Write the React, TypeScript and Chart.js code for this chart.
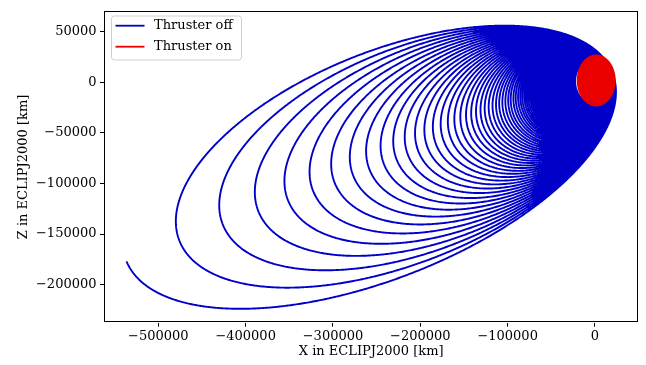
import React, { useEffect, useRef } from 'react';
import { Chart, registerables } from 'chart.js';

Chart.register(...registerables);

// Axis ticks and ranges (km)
const xTicks = [-500000, -400000, -300000, -200000, -100000, 0];
const yTicks = [-200000, -150000, -100000, -50000, 0, 50000];
const xRange = [-562200, 49600];
const yRange = [-237700, 70300];

// Projected orbit geometry (km):
// periapsis point and the perpendicular (90 deg true anomaly at circular scale)
const periapsisVec = [21100, 6800];
const perpVec = [-8030, 21400];
const periapsisRadiusKm = 22170;

// Semi-major axes of the thruster-off revolutions, innermost first (km)
const loopSemiMajorKm = [
  22250, 22500, 22700, 22900, 23100, 23300, 23600, 23800, 24100, 24300,
  24600, 24800, 25100, 25400, 25600, 25900, 26200, 26500, 26800, 27100,
  27400, 27700, 28100, 28400, 28800, 29100, 29500, 29900, 30200, 30600,
  31000, 31400, 31900, 32300, 32800, 33200, 33700, 34200, 34700, 35200,
  35700, 36300, 36800, 37400, 38000, 38700, 39300, 40000, 40700, 41400,
  42100, 42900, 43700, 44500, 45300, 46200, 47200, 48100, 49100, 50200,
  51300, 52400, 53600, 54800, 56100, 57500, 58900, 60500, 62000, 63700,
  65500, 67400, 69300, 71400, 73700, 76100, 78600, 81300, 84200, 87300,
  90700, 94300, 98200, 102500, 107200, 112300, 117900, 124100, 131000, 138600,
  147300, 157100, 168300, 181300, 196400, 214200, 235600, 261700,
];
// Last (partial) revolution
const finalSemiMajorKm = 293700;
const finalEndAnomalyDeg = -178;

// Thruster-on region: centre and half extents (km), and ring fractions
const thrustCentreKm = [1400, 1900];
const thrustHalfWidthKm = 21200;
const thrustHalfHeightKm = 24700;
const thrustRingFractions = [
  0.04, 0.09, 0.14, 0.19, 0.24, 0.29, 0.34, 0.39, 0.44, 0.49, 0.54,
  0.59, 0.64, 0.69, 0.74, 0.79, 0.84, 0.89, 0.94, 0.98, 1.0,
];

const BLUE = 'rgb(0,0,200)';
const RED = 'rgb(235,0,0)';
const FONT = '"DejaVu Serif", "Liberation Serif", serif';

type Pt = { x: number; y: number };

function orbitArc(a: number, endDeg: number, out: Pt[]) {
  const k = a / periapsisRadiusKm;
  const e = Math.max(0, 1 - 1 / k);
  const s = Math.sqrt((1 + e) / (1 - e));
  const n = Math.max(160, Math.round((Math.abs(endDeg) / 360) * 40 * k));
  const end = (endDeg * Math.PI) / 180;
  for (let i = 0; i <= n; i++) {
    const E = (end * i) / n;
    const c = k * (Math.cos(E) - e);
    const sn = s * Math.sin(E);
    out.push({
      x: c * periapsisVec[0] + sn * perpVec[0],
      y: c * periapsisVec[1] + sn * perpVec[1],
    });
  }
}

function ringPoints(f: number, out: Pt[]) {
  const n = 120;
  for (let i = 0; i <= n; i++) {
    const t = (2 * Math.PI * i) / n;
    out.push({
      x: thrustCentreKm[0] + f * thrustHalfWidthKm * Math.cos(t),
      y: thrustCentreKm[1] + f * thrustHalfHeightKm * Math.sin(t),
    });
  }
}

const fmt = (v: number | string) => {
  const n = Number(v);
  return n < 0 ? '\u2212' + String(Math.abs(n)) : String(n);
};

const overlayPlugin = {
  id: 'overlay',
  afterDraw(chart: any) {
    const { ctx, chartArea } = chart;
    ctx.save();
    // spines
    ctx.strokeStyle = '#000';
    ctx.lineWidth = 1;
    ctx.strokeRect(
      Math.round(chartArea.left) + 0.5,
      Math.round(chartArea.top) + 0.5,
      Math.round(chartArea.right - chartArea.left) - 1,
      Math.round(chartArea.bottom - chartArea.top) - 1
    );
    // axis titles
    ctx.fillStyle = '#000';
    ctx.font = `13px ${FONT}`;
    ctx.textAlign = 'center';
    ctx.textBaseline = 'middle';
    ctx.fillText('X in ECLIPJ2000 [km]', (chartArea.left + chartArea.right) / 2, 352);
    ctx.save();
    ctx.translate(24, (chartArea.top + chartArea.bottom) / 2);
    ctx.rotate(-Math.PI / 2);
    ctx.fillText('Z in ECLIPJ2000 [km]', 0, 0);
    ctx.restore();
    // legend
    const bx = 111.5, by = 16, bw = 130, bh = 44, r = 3;
    ctx.beginPath();
    ctx.moveTo(bx + r, by);
    ctx.lineTo(bx + bw - r, by);
    ctx.arcTo(bx + bw, by, bx + bw, by + r, r);
    ctx.lineTo(bx + bw, by + bh - r);
    ctx.arcTo(bx + bw, by + bh, bx + bw - r, by + bh, r);
    ctx.lineTo(bx + r, by + bh);
    ctx.arcTo(bx, by + bh, bx, by + bh - r, r);
    ctx.lineTo(bx, by + r);
    ctx.arcTo(bx, by, bx + r, by, r);
    ctx.closePath();
    ctx.fillStyle = 'rgba(255,255,255,0.8)';
    ctx.fill();
    ctx.strokeStyle = '#d0d0d0';
    ctx.lineWidth = 1;
    ctx.stroke();
    const items = [chart.data.datasets[1], chart.data.datasets[0]];
    items.forEach((ds: any, i: number) => {
      const y = 25.7 + i * 21;
      ctx.strokeStyle = ds.borderColor;
      ctx.lineWidth = 1.8;
      ctx.beginPath();
      ctx.moveTo(115.5, y);
      ctx.lineTo(144.5, y);
      ctx.stroke();
      ctx.fillStyle = '#000';
      ctx.font = `13px ${FONT}`;
      ctx.textAlign = 'left';
      ctx.textBaseline = 'middle';
      ctx.fillText(ds.label, 154, y);
    });
    ctx.restore();
  },
};

export default function App() {
  const ref = useRef<HTMLCanvasElement | null>(null);

  useEffect(() => {
    if (!ref.current) return;
    const blue: Pt[] = [];
    loopSemiMajorKm.forEach((a) => orbitArc(a, -360, blue));
    orbitArc(finalSemiMajorKm, finalEndAnomalyDeg, blue);
    const red: Pt[] = [];
    thrustRingFractions.forEach((f) => ringPoints(f, red));

    const axisCommon = {
      type: 'linear' as const,
      grid: {
        display: true,
        drawOnChartArea: false,
        drawTicks: true,
        tickLength: 4,
        tickColor: '#000',
        tickWidth: 1,
      },
      border: { display: false },
    };

    const chart = new Chart(ref.current, {
      type: 'scatter',
      data: {
        datasets: [
          {
            label: 'Thruster on',
            data: red,
            showLine: true,
            borderColor: RED,
            backgroundColor: RED,
            borderWidth: 1.9,
            pointRadius: 0,
            tension: 0.001,
          },
          {
            label: 'Thruster off',
            data: blue,
            showLine: true,
            borderColor: BLUE,
            backgroundColor: BLUE,
            borderWidth: 1.9,
            pointRadius: 0,
            tension: 0.001,
          },
        ],
      },
      options: {
        animation: false,
        responsive: false,
        parsing: false,
        events: [],
        layout: { padding: { top: 9.3, right: 7.7, left: 0, bottom: 0 } },
        plugins: { legend: { display: false }, tooltip: { enabled: false } },
        scales: {
          x: {
            ...axisCommon,
            position: 'bottom',
            min: xRange[0],
            max: xRange[1],
            afterBuildTicks: (s: any) => {
              s.ticks = xTicks.map((v) => ({ value: v }));
            },
            afterFit: (s: any) => {
              s.height = 42.3;
            },
            ticks: {
              callback: fmt,
              color: '#000',
              font: { family: FONT, size: 13 },
              padding: 2,
              maxRotation: 0,
              autoSkip: false,
            },
          },
          y: {
            ...axisCommon,
            position: 'left',
            min: yRange[0],
            max: yRange[1],
            afterBuildTicks: (s: any) => {
              s.ticks = yTicks.map((v) => ({ value: v }));
            },
            afterFit: (s: any) => {
              s.width = 104;
            },
            ticks: {
              callback: fmt,
              color: '#000',
              font: { family: FONT, size: 13 },
              padding: 3.5,
              autoSkip: false,
            },
          },
        },
      } as any,
      plugins: [overlayPlugin],
    });
    return () => chart.destroy();
  }, []);

  return (
    <div style={{ position: 'fixed', left: 0, top: 0, width: 646, height: 365, background: '#fff' }}>
      <canvas ref={ref} width={646} height={365} />
    </div>
  );
}
